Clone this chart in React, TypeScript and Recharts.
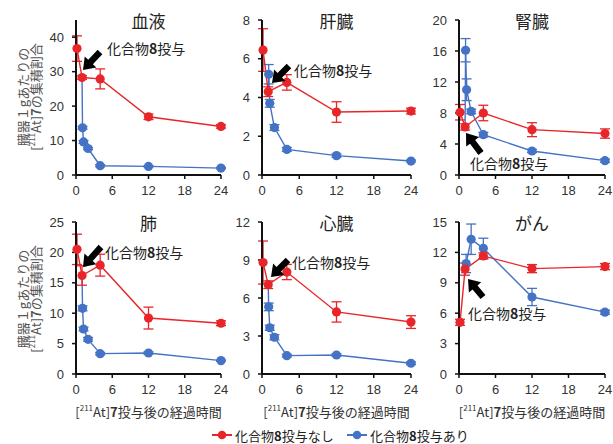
import React from "react";
import { LineChart, Line, XAxis, YAxis, ErrorBar } from "recharts";

const RED = "#E8262A";
const BLUE = "#4472C4";
const FONT_JP = '"Noto Sans CJK JP", "Noto Sans", sans-serif';
const FONT_NUM = '"Liberation Sans", Arial, sans-serif';

// sampling times (h)
const redTimes = [0.17, 1, 4, 12, 24];
const blueTimes = [1, 1.08, 1.25, 2, 4, 12, 24];
const blueTimesTumor = [1, 1.17, 2, 4, 12, 24];
const xTicks = [0, 6, 12, 18, 24];

// 血液
const bloodRed = [36.7, 28.3, 27.9, 16.9, 14.1];
const bloodRedErr = [3.7, 0.5, 2.9, 0.8, 0.5];
const bloodBlue = [28.3, 13.7, 9.6, 7.7, 2.7, 2.5, 2.0];
const bloodBlueErr = [0, 0.4, 0.4, 0.3, 0.3, 0.2, 0.2];

// 肝臓
const liverRed = [6.45, 4.3, 4.78, 3.25, 3.3];
const liverRedErr = [1.1, 0.25, 0.4, 0.53, 0.15];
const liverBlue = [4.3, 5.2, 3.7, 2.45, 1.32, 1.0, 0.72];
const liverBlueErr = [0, 0.5, 0.2, 0.15, 0.1, 0.08, 0.05];

// 腎臓
const kidneyRed = [8.1, 6.2, 8.0, 5.85, 5.35];
const kidneyRedErr = [1.0, 0.4, 1.0, 0.9, 0.6];
const kidneyBlue = [6.2, 16.1, 11.0, 8.2, 5.2, 3.1, 1.85];
const kidneyBlueErr = [0, 1.5, 1.4, 0.3, 0.3, 0.2, 0.2];

// 肺
const lungRed = [20.5, 16.2, 17.9, 9.2, 8.35];
const lungRedErr = [2.5, 1.6, 1.8, 1.8, 0.4];
const lungBlue = [16.2, 10.8, 7.4, 5.7, 3.35, 3.45, 2.2];
const lungBlueErr = [0, 0.4, 0.3, 0.3, 0.2, 0.2, 0.1];

// 心臓
const heartRed = [8.8, 7.05, 8.05, 4.9, 4.1];
const heartRedErr = [1.7, 0.3, 0.6, 0.8, 0.5];
const heartBlue = [7.05, 5.3, 3.65, 2.9, 1.45, 1.5, 0.85];
const heartBlueErr = [0, 0.3, 0.2, 0.2, 0.1, 0.1, 0.1];

// がん
const tumorRed = [5.1, 10.35, 11.65, 10.4, 10.6];
const tumorRedErr = [0.3, 0.6, 0.3, 0.4, 0.3];
const tumorBlue = [10.35, 10.9, 13.3, 12.4, 7.6, 6.1];
const tumorBlueErr = [0, 0.9, 1.5, 1.0, 0.85, 0.2];

const toRows = (ts: number[], vs: number[], es: number[]) =>
  ts.map((t, i) => ({ t, v: vs[i], e: es[i] }));

const COLS = [
  [76, 221],
  [262, 411],
  [459, 605],
];
const ROWS = [
  [20, 175],
  [222, 374],
];

const makeDot = (color: string, hideFirst: boolean) => (p: any) => {
  if (hideFirst && p.index === 0) return <g key={`h${p.index}`} />;
  return <circle key={`d${p.index}`} cx={p.cx} cy={p.cy} r={4.6} fill={color} stroke="none" />;
};

interface PanelProps {
  title: string;
  col: number;
  row: number;
  yMax: number;
  yTicks: number[];
  red: any[];
  blue: any[];
}

function Panel({ title, col, row, yMax, yTicks, red, blue }: PanelProps) {
  const [L, R] = COLS[col];
  const [T, B] = ROWS[row];
  const axisStyle = { stroke: "#111", strokeWidth: 2 };
  const tick = { fontSize: 13, fill: "#333", fontFamily: FONT_NUM };
  return (
    <div style={{ position: "absolute", left: L - 60, top: T - 10 }}>
      <LineChart
        width={R - L + 70}
        height={B - T + 40}
        margin={{ top: 10, right: 10, bottom: 0, left: 0 }}
      >
        <XAxis
          type="number"
          dataKey="t"
          domain={[0, 24]}
          ticks={xTicks}
          interval={0}
          height={30}
          axisLine={axisStyle}
          tickLine={{ stroke: "#111", strokeWidth: 1.5 }}
          tickSize={4}
          tickMargin={7}
          tick={tick}
          allowDuplicatedCategory={false}
        />
        <YAxis
          type="number"
          domain={[0, yMax]}
          ticks={yTicks}
          interval={0}
          width={60}
          axisLine={axisStyle}
          tickLine={{ stroke: "#111", strokeWidth: 1.5 }}
          tickSize={4}
          tickMargin={8}
          tick={tick}
        />
        <Line
          data={blue}
          dataKey="v"
          stroke={BLUE}
          strokeWidth={1.4}
          dot={makeDot(BLUE, true)}
          activeDot={false}
          isAnimationActive={false}
        >
          <ErrorBar dataKey="e" direction="y" width={5} stroke={BLUE} strokeWidth={1.3} />
        </Line>
        <Line
          data={red}
          dataKey="v"
          stroke={RED}
          strokeWidth={1.4}
          dot={makeDot(RED, false)}
          activeDot={false}
          isAnimationActive={false}
        >
          <ErrorBar dataKey="e" direction="y" width={5} stroke={RED} strokeWidth={1.3} />
        </Line>
      </LineChart>
      <div
        style={{
          position: "absolute",
          left: 60,
          top: 0,
          width: R - L,
          textAlign: "center",
          fontFamily: FONT_JP,
          fontSize: 17,
          color: "#222",
          lineHeight: "22px",
        }}
      >
        {title}
      </div>
    </div>
  );
}

function Arrow({ x1, y1, x2, y2 }: { x1: number; y1: number; x2: number; y2: number }) {
  const len = Math.hypot(x2 - x1, y2 - y1);
  const ang = (Math.atan2(y2 - y1, x2 - x1) * 180) / Math.PI;
  const h = 11;
  const pts = [
    [0, -3.2],
    [len - h, -3.2],
    [len - h, -8],
    [len, 0],
    [len - h, 8],
    [len - h, 3.2],
    [0, 3.2],
  ]
    .map((p) => p.join(","))
    .join(" ");
  return <polygon points={pts} fill="#000" transform={`translate(${x1},${y1}) rotate(${ang})`} />;
}

function Note({ x, y }: { x: number; y: number }) {
  return (
    <text x={x} y={y} dominantBaseline="central" fontFamily={FONT_JP} fontSize={14} fill="#222">
      化合物<tspan fontWeight="bold">8</tspan>投与
    </text>
  );
}

const notes = [
  { tx: 107, ty: 48, a: [100, 52, 83, 70] },
  { tx: 294, ty: 70, a: [289, 66, 272, 83] },
  { tx: 470, ty: 163, a: [481, 153, 466, 133] },
  { tx: 105, ty: 252, a: [101, 247, 83, 267] },
  { tx: 292, ty: 262, a: [288, 260, 271, 277] },
  { tx: 468, ty: 313, a: [483, 297, 468, 279] },
];

function YTitle({ cy }: { cy: number }) {
  return (
    <g fontFamily={FONT_JP} fontSize={13} fill="#555">
      <text x={22} y={cy} textAnchor="middle" dominantBaseline="central" transform={`rotate(-90, 22, ${cy})`}>
        臓器１gあたりの
      </text>
      <text x={35} y={cy} textAnchor="middle" dominantBaseline="central" transform={`rotate(-90, 35, ${cy})`}>
        [<tspan fontSize={8} dy={-4}>211</tspan>
        <tspan dy={4}>At]</tspan>
        <tspan fontWeight="bold">7</tspan>の集積割合
      </text>
    </g>
  );
}

function XTitle({ cx }: { cx: number }) {
  return (
    <text x={cx} y={411} textAnchor="middle" dominantBaseline="central" fontFamily={FONT_JP} fontSize={13} fill="#333">
      [<tspan fontSize={8} dy={-4}>211</tspan>
      <tspan dy={4}>At]</tspan>
      <tspan fontWeight="bold">7</tspan>投与後の経過時間
    </text>
  );
}

export default function App() {
  return (
    <div style={{ position: "absolute", left: 0, top: 0, width: 613, height: 444, background: "#fff", overflow: "hidden" }}>
      <Panel title="血液" col={0} row={0} yMax={45} yTicks={[0, 10, 20, 30, 40]}
        red={toRows(redTimes, bloodRed, bloodRedErr)} blue={toRows(blueTimes, bloodBlue, bloodBlueErr)} />
      <Panel title="肝臓" col={1} row={0} yMax={8} yTicks={[0, 2, 4, 6, 8]}
        red={toRows(redTimes, liverRed, liverRedErr)} blue={toRows(blueTimes, liverBlue, liverBlueErr)} />
      <Panel title="腎臓" col={2} row={0} yMax={20} yTicks={[0, 4, 8, 12, 16, 20]}
        red={toRows(redTimes, kidneyRed, kidneyRedErr)} blue={toRows(blueTimes, kidneyBlue, kidneyBlueErr)} />
      <Panel title="肺" col={0} row={1} yMax={25} yTicks={[0, 5, 10, 15, 20, 25]}
        red={toRows(redTimes, lungRed, lungRedErr)} blue={toRows(blueTimes, lungBlue, lungBlueErr)} />
      <Panel title="心臓" col={1} row={1} yMax={12} yTicks={[0, 3, 6, 9, 12]}
        red={toRows(redTimes, heartRed, heartRedErr)} blue={toRows(blueTimes, heartBlue, heartBlueErr)} />
      <Panel title="がん" col={2} row={1} yMax={15} yTicks={[0, 3, 6, 9, 12, 15]}
        red={toRows(redTimes, tumorRed, tumorRedErr)} blue={toRows(blueTimesTumor, tumorBlue, tumorBlueErr)} />
      <svg width={613} height={444} style={{ position: "absolute", left: 0, top: 0, pointerEvents: "none" }}>
        {notes.map((n, i) => (
          <g key={i}>
            <Arrow x1={n.a[0]} y1={n.a[1]} x2={n.a[2]} y2={n.a[3]} />
            <Note x={n.tx} y={n.ty} />
          </g>
        ))}
        <YTitle cy={97} />
        <YTitle cy={299} />
        {COLS.map(([l, r], i) => (
          <XTitle key={i} cx={(l + r) / 2} />
        ))}
        <g fontFamily={FONT_JP} fontSize={13} fill="#222">
          <line x1={212} y1={435} x2={232} y2={435} stroke={RED} strokeWidth={2} />
          <circle cx={222} cy={435} r={4.3} fill={RED} />
          <text x={235} y={435} dominantBaseline="central">
            化合物<tspan fontWeight="bold">8</tspan>投与なし
          </text>
          <line x1={347} y1={435} x2={367} y2={435} stroke={BLUE} strokeWidth={2} />
          <circle cx={357} cy={435} r={4.3} fill={BLUE} />
          <text x={370} y={435} dominantBaseline="central">
            化合物<tspan fontWeight="bold">8</tspan>投与あり
          </text>
        </g>
      </svg>
    </div>
  );
}
